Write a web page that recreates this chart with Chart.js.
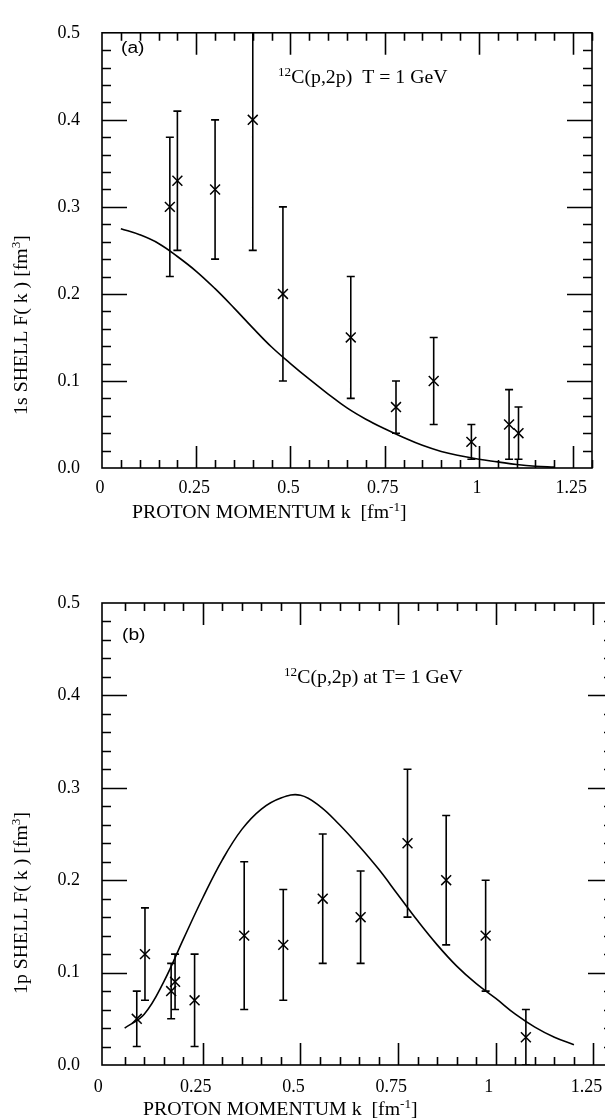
<!DOCTYPE html>
<html>
<head>
<meta charset="utf-8">
<script src="https://cdn.jsdelivr.net/npm/chart.js@4.4.0/dist/chart.umd.min.js"></script>
<style>
  html, body { margin: 0; padding: 0; background: #fff; overflow: hidden; width: 605px; height: 1118px; }
  .panel { position: absolute; left: 0; }
  #wrapA { top: 0; width: 605px; height: 560px; }
  #wrapB { top: 560px; width: 625px; height: 558px; }
</style>
</head>
<body>
<div class="panel" id="wrapA"><canvas id="chartA" width="605" height="560"></canvas></div>
<div class="panel" id="wrapB"><canvas id="chartB" width="625" height="558"></canvas></div>
<script>
// axis ticks
const xTicks = [0, 0.25, 0.5, 0.75, 1, 1.25];
const xTickLabels = ['0', '0.25', '0.5', '0.75', '1', '1.25'];
const yTicks = [0, 0.1, 0.2, 0.3, 0.4, 0.5];
const yTickLabels = ['0.0', '0.1', '0.2', '0.3', '0.4', '0.5'];

// (a) 1s shell: measured points with error bars
const kA = [0.18, 0.20, 0.30, 0.40, 0.48, 0.66, 0.78, 0.88, 0.98, 1.08, 1.105];
const fA = [0.30, 0.33, 0.32, 0.40, 0.20, 0.15, 0.07, 0.10, 0.03, 0.05, 0.04];
const loA = [0.22, 0.25, 0.24, 0.25, 0.10, 0.08, 0.04, 0.05, 0.01, 0.01, 0.01];
const hiA = [0.38, 0.41, 0.40, 0.55, 0.30, 0.22, 0.10, 0.15, 0.05, 0.09, 0.07];
// (a) calculated curve
const curveKA = [0.05, 0.1, 0.15, 0.2, 0.25, 0.3, 0.35, 0.4, 0.45, 0.5, 0.55, 0.6,
                 0.65, 0.7, 0.75, 0.8, 0.85, 0.9, 0.95, 1.0, 1.05, 1.1, 1.15, 1.2];
const curveFA = [0.275, 0.268, 0.258, 0.243, 0.226, 0.206, 0.184, 0.161, 0.139, 0.120, 0.102, 0.085,
                 0.069, 0.056, 0.045, 0.035, 0.026, 0.019, 0.014, 0.010, 0.007, 0.004, 0.002, 0.001];

// (b) 1p shell
const kB = [0.081, 0.102, 0.169, 0.179, 0.229, 0.356, 0.456, 0.557, 0.654, 0.774, 0.873, 0.974, 1.077];
const fB = [0.05, 0.12, 0.08, 0.09, 0.07, 0.14, 0.13, 0.18, 0.16, 0.24, 0.20, 0.14, 0.03];
const loB = [0.02, 0.07, 0.05, 0.06, 0.02, 0.06, 0.07, 0.11, 0.11, 0.16, 0.13, 0.08, 0.00];
const hiB = [0.08, 0.17, 0.11, 0.12, 0.12, 0.22, 0.19, 0.25, 0.21, 0.32, 0.27, 0.20, 0.06];
const curveKB = [0.05, 0.1, 0.15, 0.2, 0.25, 0.3, 0.35, 0.4, 0.45, 0.5, 0.55, 0.6,
                 0.65, 0.7, 0.75, 0.8, 0.85, 0.9, 0.95, 1.0, 1.05, 1.1, 1.15, 1.2];
const curveFB = [0.040, 0.055, 0.090, 0.136, 0.181, 0.222, 0.255, 0.277, 0.289, 0.292, 0.280, 0.260,
                 0.237, 0.212, 0.184, 0.156, 0.130, 0.107, 0.088, 0.072, 0.055, 0.041, 0.030, 0.022];

const SERIF = '"Liberation Serif", "Times New Roman", serif';
const SANS = '"Liberation Sans", Arial, sans-serif';
const STRETCH = 1.1;

// draw text runs (with superscripts) from current origin, returns width
function drawRuns(ctx, runs, size, family, measureOnly) {
  let x = 0;
  for (const r of runs) {
    const fs = r.sup ? Math.round(size * 0.65) : size;
    ctx.font = fs + 'px ' + family;
    if (!measureOnly) ctx.fillText(r.t, x, r.sup ? -size * 0.38 : 0);
    x += ctx.measureText(r.t).width;
  }
  return x;
}

function drawLabel(ctx, lab) {
  ctx.save();
  ctx.fillStyle = '#000';
  ctx.textBaseline = 'alphabetic';
  ctx.textAlign = 'left';
  ctx.translate(lab.x, lab.y);
  if (lab.rotate) ctx.rotate(-Math.PI / 2);
  ctx.scale(lab.sx || STRETCH, 1);
  const fam = lab.family || SERIF;
  if (lab.center) {
    const w = drawRuns(ctx, lab.runs, lab.size, fam, true);
    ctx.translate(-w / 2, 0);
  }
  drawRuns(ctx, lab.runs, lab.size, fam, false);
  ctx.restore();
}

const errorBars = {
  id: 'errorBars',
  afterDatasetsDraw(chart) {
    const { ctx, chartArea: a, scales: { x, y } } = chart;
    const ds = chart.data.datasets[0];
    ctx.save();
    ctx.beginPath();
    ctx.rect(a.left, a.top, a.right - a.left, a.bottom - a.top);
    ctx.clip();
    ctx.strokeStyle = '#000';
    ctx.lineWidth = 1.6;
    ctx.beginPath();
    ds.data.forEach((p, i) => {
      const px = x.getPixelForValue(p.x);
      const pLo = y.getPixelForValue(ds.errLow[i]);
      const pHi = y.getPixelForValue(ds.errHigh[i]);
      ctx.moveTo(px, pLo); ctx.lineTo(px, pHi);
      ctx.moveTo(px - 4, pLo); ctx.lineTo(px + 4, pLo);
      ctx.moveTo(px - 4, pHi); ctx.lineTo(px + 4, pHi);
    });
    ctx.stroke();
    ctx.restore();
  }
};

const frameTicks = {
  id: 'frameTicks',
  afterDraw(chart) {
    const { ctx, chartArea: a, scales: { x, y } } = chart;
    ctx.save();
    ctx.strokeStyle = '#000';
    ctx.lineWidth = 1.6;
    ctx.strokeRect(a.left, a.top, a.right - a.left, a.bottom - a.top);
    ctx.beginPath();
    for (let i = 1; i * 0.05 <= x.max + 1e-9; i++) {
      const px = Math.round(x.getPixelForValue(i * 0.05)) + 0.5;
      const len = i % 5 === 0 ? 22 : 8;
      ctx.moveTo(px, a.bottom); ctx.lineTo(px, a.bottom - len);
      ctx.moveTo(px, a.top); ctx.lineTo(px, a.top + len);
    }
    for (let i = 1; i < 25; i++) {
      const py = Math.round(y.getPixelForValue(i * 0.02)) + 0.5;
      const len = i % 5 === 0 ? 25 : 9;
      ctx.moveTo(a.left, py); ctx.lineTo(a.left + len, py);
      ctx.moveTo(a.right, py); ctx.lineTo(a.right - len, py);
    }
    ctx.stroke();
    ctx.restore();
    (chart.options.plugins.texts.items || []).forEach(lab => drawLabel(ctx, lab));
  }
};

function makePanel(id, o) {
  const canvas = document.getElementById(id);
  const W = canvas.width, H = canvas.height;
  const tickFont = { family: SERIF, size: 18 };
  return new Chart(canvas, {
    type: 'scatter',
    data: {
      datasets: [{
        data: o.k.map((v, i) => ({ x: v, y: o.f[i] })),
        errLow: o.lo,
        errHigh: o.hi,
        pointStyle: 'crossRot',
        pointRadius: 7,
        pointBorderColor: '#000',
        pointBorderWidth: 1.5,
        showLine: false
      }, {
        data: o.ck.map((v, i) => ({ x: v, y: o.cf[i] })),
        showLine: true,
        borderColor: '#000',
        borderWidth: 1.6,
        pointRadius: 0,
        tension: 0.4
      }]
    },
    options: {
      responsive: false,
      animation: false,
      events: [],
      layout: { padding: { top: o.top, right: W - o.right, left: 0, bottom: 0 } },
      plugins: {
        legend: { display: false },
        tooltip: { enabled: false },
        texts: { items: o.texts }
      },
      scales: {
        x: {
          type: 'linear',
          min: o.xMin,
          max: 1.3,
          afterBuildTicks: s => { s.ticks = xTicks.map(v => ({ value: v })); },
          afterFit: s => { s.height = H - o.bottom; },
          grid: { display: false, drawTicks: false },
          border: { display: false },
          ticks: {
            callback: v => xTickLabels[xTicks.indexOf(v)],
            font: tickFont, color: '#000', padding: o.xPad, labelOffset: o.xShift,
            maxRotation: 0, autoSkip: false
          }
        },
        y: {
          min: 0,
          max: 0.5,
          afterBuildTicks: s => { s.ticks = yTicks.map(v => ({ value: v })); },
          afterFit: s => { s.width = o.left; },
          grid: { display: false, drawTicks: false },
          border: { display: false },
          ticks: {
            callback: v => yTickLabels[yTicks.indexOf(v)],
            font: tickFont, color: '#000', padding: 22
          }
        }
      }
    },
    plugins: [errorBars, frameTicks]
  });
}

makePanel('chartA', {
  k: kA, f: fA, lo: loA, hi: hiA, ck: curveKA, cf: curveFA,
  left: 102, top: 14, right: 592, bottom: 468, xMin: 0, xPad: 9, xShift: -2,
  texts: [
    { runs: [{ t: '(a)' }], x: 121, y: 53, size: 16, family: SANS, sx: 1.2 },
    { runs: [{ t: '12', sup: true }, { t: 'C(p,2p)  T = 1 GeV' }], x: 278, y: 83, size: 18 },
    { runs: [{ t: 'PROTON MOMENTUM k  [fm' }, { t: '-1', sup: true }, { t: ']' }], x: 132, y: 518, size: 18 },
    { runs: [{ t: '1s SHELL F( k ) [fm' }, { t: '3', sup: true }, { t: ']' }], x: 27, y: 325, size: 18, rotate: true, center: true }
  ]
});

makePanel('chartB', {
  k: kB, f: fB, lo: loB, hi: hiB, ck: curveKB, cf: curveFB,
  left: 102, top: 43, right: 613, bottom: 505, xMin: -0.008, xPad: 11, xShift: -7,
  texts: [
    { runs: [{ t: '(b)' }], x: 122, y: 80, size: 16, family: SANS, sx: 1.2 },
    { runs: [{ t: '12', sup: true }, { t: 'C(p,2p) at T= 1 GeV' }], x: 284, y: 123, size: 18 },
    { runs: [{ t: 'PROTON MOMENTUM k  [fm' }, { t: '-1', sup: true }, { t: ']' }], x: 143, y: 555, size: 18 },
    { runs: [{ t: '1p SHELL F( k ) [fm' }, { t: '3', sup: true }, { t: ']' }], x: 27, y: 343, size: 18, rotate: true, center: true }
  ]
});
</script>
</body>
</html>
